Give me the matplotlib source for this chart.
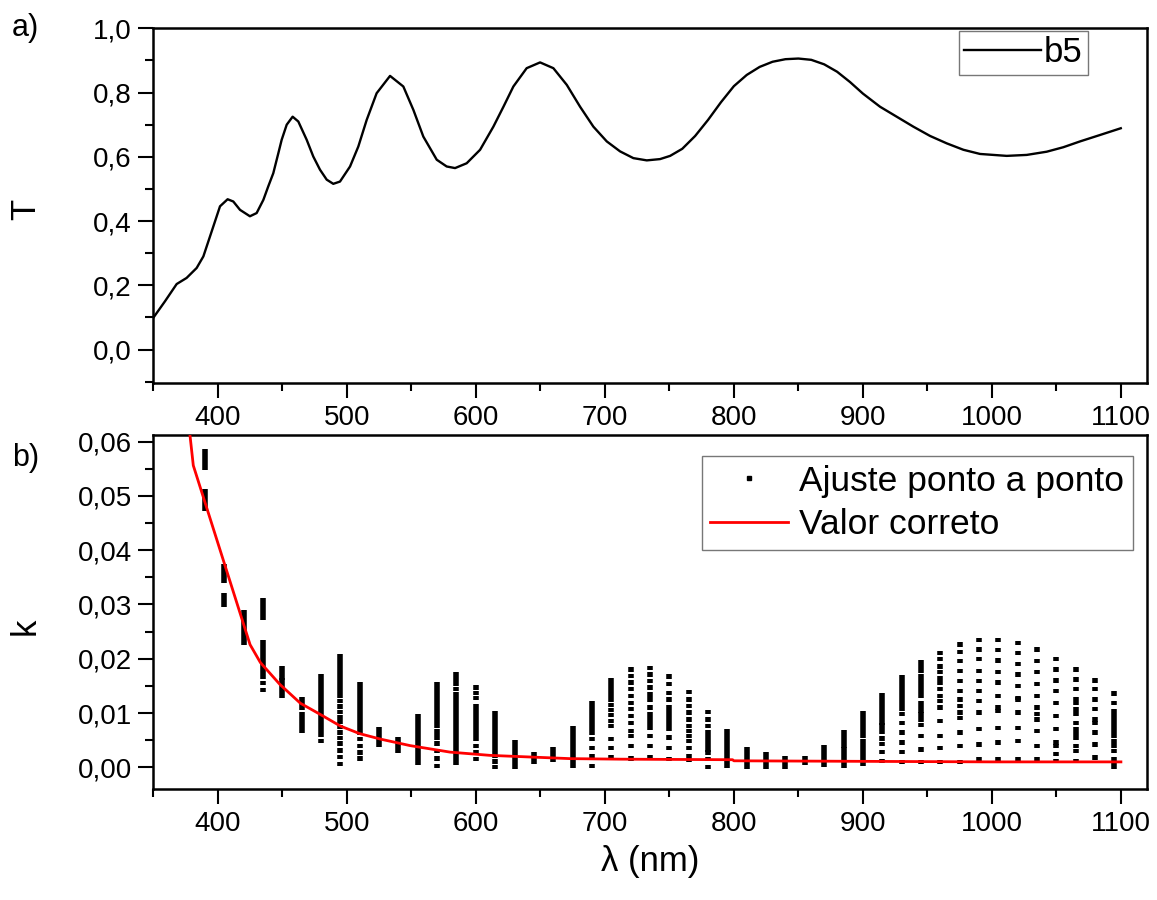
import numpy as np
import matplotlib.pyplot as plt
from matplotlib.ticker import MultipleLocator, FuncFormatter
from matplotlib.lines import Line2D

plt.rcParams['font.family'] = ['Liberation Sans', 'DejaVu Sans']

# a) transmittance of film b5
lam_T = [350, 359, 368.1, 375.8, 383.6, 388.8, 396.5, 401.7, 407.6, 412, 417.2, 424.9,
         430.1, 435.3, 439.1, 443, 446.9, 449.5, 453.4, 458, 462.4, 468.9, 474, 479.2,
         484.4, 489.5, 494.7, 502.5, 508.9, 515.4, 523.1, 533.5, 543.8, 551.6, 559.3,
         569.7, 577.4, 583.9, 592.9, 603.3, 613.6, 621.4, 629.1, 639.4, 649.8, 660.1,
         670.5, 680.8, 691.1, 701.5, 711.8, 722.1, 732.5, 742.8, 750.6, 760, 770, 780,
         790, 800, 810, 820, 830, 840, 850, 860, 870, 880, 890, 900, 913.3, 926.2,
         939.1, 952.1, 965, 977.9, 990.8, 1011.5, 1027, 1042.5, 1055.4, 1068.3,
         1083.8, 1099.9]
T = [0.099, 0.150, 0.204, 0.223, 0.254, 0.290, 0.383, 0.446, 0.468, 0.461, 0.435, 0.415,
     0.425, 0.466, 0.508, 0.549, 0.611, 0.653, 0.700, 0.725, 0.710, 0.653, 0.601, 0.560,
     0.529, 0.516, 0.523, 0.570, 0.632, 0.715, 0.798, 0.852, 0.819, 0.746, 0.663,
     0.591, 0.570, 0.565, 0.580, 0.622, 0.694, 0.756, 0.819, 0.876, 0.894, 0.876,
     0.824, 0.756, 0.694, 0.648, 0.617, 0.596, 0.589, 0.593, 0.603, 0.625, 0.665, 0.715,
     0.770, 0.820, 0.855, 0.880, 0.896, 0.904, 0.906, 0.902, 0.888, 0.865, 0.833, 0.797,
     0.756, 0.725, 0.694, 0.665, 0.642, 0.622, 0.609, 0.603, 0.606, 0.616, 0.630, 0.648,
     0.668, 0.689]

# b) extinction coefficient: correct value (red line)
lam_k = [375, 381, 425, 433, 448, 464, 479, 495, 510, 526, 549, 580, 611, 642,
         673, 712, 799, 800, 900, 1000, 1100]
k_true = [0.0686, 0.0556, 0.0226, 0.0193, 0.0153, 0.0118, 0.0098, 0.0076, 0.0062,
          0.0052, 0.0040, 0.0028, 0.0022, 0.0019, 0.0016, 0.0015, 0.0014, 0.0012,
          0.0011, 0.0010, 0.0010]

# point-by-point fit results (units of 1e-3); tuples are runs of overlapping points
fit_lam = [390, 405, 420, 435, 450, 465, 480, 495, 510, 525, 540, 555, 570, 585,
           600, 615, 630, 645, 660, 675, 690, 705, 720, 735, 750, 765, 780, 795,
           810, 825, 840, 855, 870, 885, 900, 915, 930, 945, 960, 975, 990, 1005,
           1020, 1035, 1050, 1065, 1080, 1095]
fit_k = [
    [(47.6, 50.9), (55.1, 58.2)],
    [(30.0, 31.8), (34.4, 37.0)],
    [(22.9, 28.6)],
    [14.3, 15.5, 16.7, (17.6, 23.0), (27.5, 30.8)],
    [(13.1, 16.0), (16.5, 18.3)],
    [(6.7, 9.7), (11.0, 12.5)],
    [4.9, (6.0, 11.0), (11.8, 16.8)],
    [0.6, 1.9, 3.1, 4.4, 5.4, 6.4, 7.4, 8.3, 9.2, 10.2, 11.2, 12.2, (13.2, 20.5)],
    [1.6, 2.7, 3.9, 5.2, (6.4, 10.1), (11.0, 15.3)],
    [(4.2, 7.1)],
    [(3.1, 5.2)],
    [(0.9, 9.5)],
    [0.2, 1.6, 3.0, 4.4, (5.5, 6.7), (7.6, 15.3)],
    [0.9, 1.8, (2.7, 12.5), 13.4, 14.4, 15.3, 16.2, 17.1],
    [1.5, 2.7, 3.9, (5.2, 11.3), 12.8, 13.7, 14.7],
    [0.1, 1.1, (2.1, 9.9)],
    [(0.0, 4.7)],
    [(1.1, 2.5)],
    [(1.3, 3.3)],
    [(0.2, 7.2)],
    [0.3, 2.1, 3.6, 5.2, (6.4, 11.9)],
    [1.8, 3.6, 5.2, 7.6, 8.5, 9.6, 10.6, 11.5, (12.5, 16.0)],
    [1.6, 3.9, 5.8, 6.7, 8.2, 9.5, 10.7, 11.9, 13.1, 14.4, 15.6, 16.8, 18.0],
    [1.8, 3.9, 5.8, (7.3, 9.8), 11.0, 12.5, 13.4, 14.7, 15.9, 17.1, 18.3],
    [1.5, 3.6, 5.5, (7.0, 10.1), 11.0, 12.5, 13.7, 15.3, 16.7],
    [1.4, 2.1, 3.6, 4.9, 5.8, 6.7, 7.6, 8.8, 10.1, 11.3, 12.5, 13.9],
    [0.0, 1.5, 2.7, (3.3, 6.4), 7.6, 8.8, 10.2],
    [(0.3, 5.2), (6.0, 6.7)],
    [(0.0, 3.4)],
    [(0.0, 2.4)],
    [(0.0, 1.7)],
    [(0.9, 1.6)],
    [(0.4, 3.7)],
    [(0.2, 3.3), (3.9, 6.5)],
    [(0.6, 4.9), (5.8, 9.9)],
    [1.2, 2.8, 4.3, 5.3, (6.6, 7.7), (8.2, 13.3)],
    [1.0, 2.8, 4.6, 6.4, 8.2, 9.8, (10.7, 16.6)],
    [1.0, 3.3, 5.8, 7.8, (8.8, 9.8), (10.4, 11.9), (13.1, 16.8), (17.7, 19.3)],
    [1.0, 3.6, 5.8, 8.5, 11.0, 12.2, 13.1, 14.4, 15.6, 16.5, 17.5, 18.6, 19.9, 21.1],
    [1.0, 3.9, 6.4, 9.1, 10.1, 11.3, 12.5, 14.1, 15.9, 17.7, 19.6, 21.2, 22.6],
    [1.5, 4.2, 7.1, 10.1, 12.2, 14.1, 15.9, 17.8, 19.9, 21.7, 23.4],
    [1.5, 4.6, 7.3, 10.4, 11.0, 13.1, 15.6, 17.5, 19.7, 21.6, 23.4],
    [1.5, 4.8, 7.3, 10.1, 12.5, 12.8, 15.0, 17.1, 19.0, 21.0, 22.9],
    [1.5, 3.9, 6.7, 8.8, 9.8, 11.0, 13.1, 15.3, 17.5, 19.6, 21.7],
    [1.2, 2.4, 3.9, 4.6, 7.0, 9.5, 11.9, 14.1, 16.0, 18.0, 20.0],
    [1.2, 3.0, 3.9, (5.5, 7.0), 8.2, (9.8, 10.7), (11.9, 12.5), 14.4, 16.2, 18.0],
    [1.8, 4.2, 6.4, 8.2, 8.8, 10.7, 12.5, 14.4, 16.0],
    [(0.1, 1.5), 3.0, (3.9, 4.9), (5.8, 9.1), (9.8, 10.4), 11.9, 13.6],
]


def comma(fmt):
    return FuncFormatter(lambda v, p: (fmt % v).replace('.', ','))


def style(ax):
    for s in ax.spines.values():
        s.set_linewidth(1.8)
    ax.tick_params(which='both', direction='out', top=False, right=False,
                   width=1.5, labelsize=20, pad=5)
    ax.tick_params(which='major', length=10.5)
    ax.tick_params(which='minor', length=5.5)
    ax.xaxis.set_major_locator(MultipleLocator(100))
    ax.xaxis.set_minor_locator(MultipleLocator(50))
    ax.set_xlim(350, 1120)


fig = plt.figure(figsize=(11.57, 9.0), dpi=100)
ax1 = fig.add_axes([0.1325, 0.5741, 0.8586, 0.3944])
ax2 = fig.add_axes([0.1325, 0.1233, 0.8586, 0.3933])

# top panel
style(ax1)
ax1.plot(lam_T, T, color='black', lw=1.7, label='b5')
ax1.set_ylim(-0.105, 1.0)
ax1.yaxis.set_major_locator(MultipleLocator(0.2))
ax1.yaxis.set_minor_locator(MultipleLocator(0.1))
ax1.yaxis.set_major_formatter(comma('%.1f'))
ax1.set_ylabel('T', fontsize=25)
ax1.yaxis.set_label_coords(-0.112, 0.49)
leg1 = ax1.legend(loc='upper right', bbox_to_anchor=(0.941, 0.992), fontsize=25,
                  frameon=True, fancybox=False, handlelength=2.2, handletextpad=0.1,
                  borderpad=0.15, borderaxespad=0)
leg1.get_frame().set_edgecolor('#555555')
leg1.get_frame().set_linewidth(1.0)

# bottom panel
style(ax2)
for lam, runs in zip(fit_lam, fit_k):
    for r in runs:
        lo, hi = (r, r) if np.isscalar(r) else r
        ax2.vlines(lam, (lo - 0.4) * 1e-3, (hi + 0.4) * 1e-3, colors='black',
                   linewidth=4.0, capstyle='butt', zorder=2)
ax2.plot(lam_k, k_true, color='red', lw=2.0, zorder=3)
ax2.set_ylim(-0.004, 0.0612)
ax2.yaxis.set_major_locator(MultipleLocator(0.01))
ax2.yaxis.set_minor_locator(MultipleLocator(0.005))
ax2.yaxis.set_major_formatter(comma('%.2f'))
ax2.set_ylabel('k', fontsize=25)
ax2.yaxis.set_label_coords(-0.112, 0.46)
ax2.set_xlabel('λ (nm)', fontsize=25, labelpad=6)

handles = [Line2D([], [], marker='s', ls='none', color='black', ms=3.5),
           Line2D([], [], color='red', lw=2.0)]
leg2 = ax2.legend(handles, ['Ajuste ponto a ponto', 'Valor correto'],
                  loc='upper right', bbox_to_anchor=(0.986, 0.941), fontsize=25.5,
                  frameon=True, fancybox=False, handlelength=2.2, handletextpad=0.3,
                  labelspacing=0.3, borderpad=0.25, borderaxespad=0)
leg2.get_frame().set_edgecolor('#555555')
leg2.get_frame().set_linewidth(1.0)

fig.text(12 / 1157, 1 - 28 / 900, 'a)', fontsize=22, ha='left', va='center')
fig.text(12 / 1157, 1 - 458 / 900, 'b)', fontsize=22, ha='left', va='center')

fig.savefig('out.png', dpi=100)
